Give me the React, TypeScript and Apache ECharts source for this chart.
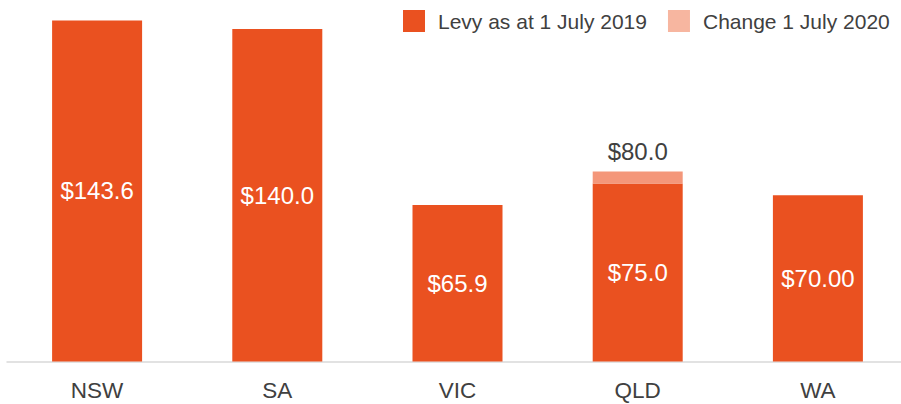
import React, { useEffect, useRef } from "react";
import * as echarts from "echarts";

const categories = ["NSW", "SA", "VIC", "QLD", "WA"];
const levy2019 = [143.6, 140.0, 65.9, 75.0, 70.0];
const levy2019Labels = ["$143.6", "$140.0", "$65.9", "$75.0", "$70.00"];
const change2020 = [null, null, null, 5.0, null];
const change2020Labels = ["", "", "", "$80.0", ""];

const FONT = "'Liberation Sans', Arial, Helvetica, sans-serif";

export default function App() {
  const ref = useRef<HTMLDivElement>(null);
  useEffect(() => {
    if (!ref.current) return;
    const chart = echarts.init(ref.current, null, { renderer: "svg" });
    chart.setOption({
      animation: false,
      textStyle: { fontFamily: FONT },
      legend: {
        left: 398,
        top: 5,
        itemWidth: 22,
        itemHeight: 22,
        itemGap: 21,
        icon: "rect",
        textStyle: { fontSize: 21, color: "#404040", fontFamily: FONT, padding: [0, 0, 0, 8] },
        data: [
          { name: "Levy as at 1 July 2019", itemStyle: { color: "#EA5120" } },
          { name: "Change 1 July 2020", itemStyle: { color: "#F7B6A0" } },
        ],
      },
      grid: { left: 7, right: 0, top: 5.25, bottom: 42.5, containLabel: false },
      xAxis: {
        type: "category",
        data: categories,
        axisTick: { show: false },
        axisLine: { lineStyle: { color: "#D9D9D9", width: 1.5 } },
        axisLabel: { fontSize: 22.5, color: "#404040", margin: 17, fontFamily: FONT },
      },
      yAxis: {
        type: "value",
        min: 0,
        max: 150,
        show: false,
        splitLine: { show: false },
      },
      series: [
        {
          name: "Levy as at 1 July 2019",
          type: "bar",
          stack: "levy",
          barWidth: 90,
          data: levy2019,
          itemStyle: { color: "#EA5120" },
          label: {
            show: true,
            position: "inside",
            fontSize: 24,
            color: "#FFFFFF",
            fontFamily: FONT,
            formatter: (p: any) => levy2019Labels[p.dataIndex],
          },
        },
        {
          name: "Change 1 July 2020",
          type: "bar",
          stack: "levy",
          barWidth: 90,
          data: change2020,
          itemStyle: { color: "#F4977A" },
          label: {
            show: true,
            position: "top",
            distance: 8,
            fontSize: 24,
            color: "#404040",
            fontFamily: FONT,
            formatter: (p: any) => change2020Labels[p.dataIndex],
          },
        },
      ],
    });
    return () => chart.dispose();
  }, []);
  return (
    <div style={{ width: 901, height: 404, position: "absolute", left: 0, top: 0, overflow: "hidden" }}>
      <div ref={ref} style={{ width: 908, height: 404 }} />
    </div>
  );
}
